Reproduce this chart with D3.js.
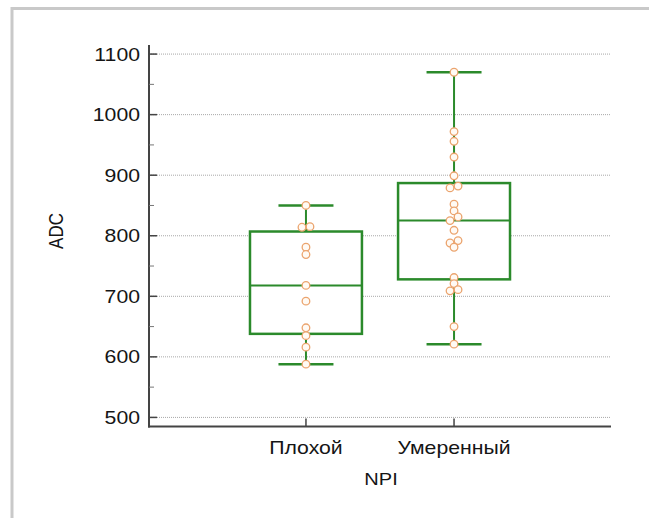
<!DOCTYPE html>
<meta charset="utf-8">
<script src="https://d3js.org/d3.v7.min.js"></script>
<style>
body { margin: 0; background: #fff; overflow: hidden; }
svg { display: block; }
text { font-family: "Liberation Sans", Arial, sans-serif; fill: #151515; }
</style>
<svg id="chart" width="649" height="518"></svg>
<script>
// data
var categories = ["Плохой", "Умеренный"];
var valuesPoor = [850, 815, 814, 781, 769, 718, 692, 648, 635, 616, 588];
var valuesModerate = [1070, 972, 956, 930, 899, 882, 879, 852, 841, 831, 825, 809, 792, 788, 781, 731, 721, 711, 709, 650, 621];
var q1 = [638, 728];
var medians = [718, 825];
var q3 = [807, 887];
var whiskerLow = [588, 621];
var whiskerHigh = [850, 1070];
var yTicks = [500, 600, 700, 800, 900, 1000, 1100];
var yMinorTicks = [550, 650, 750, 850, 950, 1050];

var groups = [valuesPoor, valuesModerate];

var svg = d3.select("#chart");
var green = "#2b8a2b";
var sx = 1.18; // the picture is a little stretched sideways

var pLeft = 149, pRight = 611, pTop = 45, pBottom = 426.5;

var y = d3.scaleLinear().domain([485, 1115]).range([pBottom, pTop]);
var x = d3.scalePoint().domain(categories).range([pLeft, pRight]).padding(1.06);
var boxW = x.step() * 0.756;
var capW = 55;

// outer frame: only the top and left edges are inside the picture
svg.append("path")
  .attr("d", "M12,520 V8.5 H660")
  .attr("fill", "none")
  .attr("stroke", "#c9c9c9")
  .attr("stroke-width", 3);

// helper for stretched text
function label(x0, y0, str, size, anchor, rot) {
  var t = "translate(" + x0 + "," + y0 + ") scale(" + sx + ",1)" + (rot ? " rotate(" + rot + ")" : "");
  return svg.append("text")
    .attr("transform", t)
    .attr("text-anchor", anchor)
    .style("font-size", size + "px")
    .text(str);
}

// grid lines
svg.append("g")
  .selectAll("line")
  .data(yTicks)
  .enter()
  .append("line")
    .attr("x1", pLeft).attr("x2", 610)
    .attr("y1", function(d){ return y(d); })
    .attr("y2", function(d){ return y(d); })
    .attr("stroke", "#a8a8a8")
    .attr("stroke-width", 1)
    .attr("stroke-dasharray", "1,1");

// y axis
var yAxis = svg.append("g").attr("transform", "translate(" + pLeft + ",0)");
yAxis.append("line")
  .attr("x1", 0).attr("x2", 0).attr("y1", pTop).attr("y2", pBottom + 1)
  .attr("stroke", "#444").attr("stroke-width", 2);
yAxis.selectAll(".maj")
  .data(yTicks)
  .enter()
  .append("line")
    .attr("x1", 0).attr("x2", 8)
    .attr("y1", function(d){ return y(d); })
    .attr("y2", function(d){ return y(d); })
    .attr("stroke", "#444").attr("stroke-width", 1.5);
yAxis.selectAll(".min")
  .data(yMinorTicks)
  .enter()
  .append("line")
    .attr("x1", 0).attr("x2", 5)
    .attr("y1", function(d){ return y(d); })
    .attr("y2", function(d){ return y(d); })
    .attr("stroke", "#777").attr("stroke-width", 1);
yTicks.forEach(function(d){
  label(140, y(d) + 6.5, d, 18, "end");
});

// x axis
svg.append("line")
  .attr("x1", pLeft - 1).attr("x2", pRight)
  .attr("y1", pBottom).attr("y2", pBottom)
  .attr("stroke", "#444").attr("stroke-width", 2);
svg.selectAll(".xtick")
  .data(categories)
  .enter()
  .append("line")
    .attr("x1", function(d){ return x(d); })
    .attr("x2", function(d){ return x(d); })
    .attr("y1", pBottom).attr("y2", pBottom - 8)
    .attr("stroke", "#444").attr("stroke-width", 1.5);
categories.forEach(function(d){
  label(x(d), 453.5, d, 18, "middle");
});

// axis titles
label(381, 484.5, "NPI", 17, "middle");
label(63, 231, "ADC", 17, "middle", -90);

// boxes
var box = svg.append("g");
categories.forEach(function(c, i){
  var cx = x(c);
  // whiskers
  box.append("line")
    .attr("x1", cx).attr("x2", cx)
    .attr("y1", y(whiskerHigh[i])).attr("y2", y(whiskerLow[i]))
    .attr("stroke", green).attr("stroke-width", 2);
  [whiskerLow[i], whiskerHigh[i]].forEach(function(v){
    box.append("line")
      .attr("x1", cx - capW / 2).attr("x2", cx + capW / 2)
      .attr("y1", y(v)).attr("y2", y(v))
      .attr("stroke", green).attr("stroke-width", 2.5);
  });
  box.append("rect")
    .attr("x", cx - boxW / 2)
    .attr("y", y(q3[i]))
    .attr("width", boxW)
    .attr("height", y(q1[i]) - y(q3[i]))
    .attr("fill", "#fff")
    .attr("stroke", green).attr("stroke-width", 2.5);
  box.append("line")
    .attr("x1", cx - boxW / 2).attr("x2", cx + boxW / 2)
    .attr("y1", y(medians[i])).attr("y2", y(medians[i]))
    .attr("stroke", green).attr("stroke-width", 2);
});

// points: close values get nudged sideways
function offsets(vals) {
  var out = [], grp = [];
  function flush() {
    var pat = grp.length == 1 ? [0] : grp.length == 2 ? [4, -4] : [4, -4, 0, 8, -8];
    grp.forEach(function(v, k){ out.push({v: v, dx: pat[k % pat.length]}); });
    grp = [];
  }
  vals.forEach(function(v){
    if (grp.length && Math.abs(y(v) - y(grp[grp.length - 1])) >= 5) flush();
    grp.push(v);
  });
  flush();
  return out;
}

categories.forEach(function(c, i){
  svg.append("g")
    .selectAll("circle")
    .data(offsets(groups[i]))
    .enter()
    .append("circle")
      .attr("cx", function(d){ return x(c) + d.dx; })
      .attr("cy", function(d){ return y(d.v); })
      .attr("r", 3.8)
      .attr("fill", "#fffaf4")
      .attr("stroke", "#eba46e")
      .attr("stroke-width", 1.3);
});
</script>
